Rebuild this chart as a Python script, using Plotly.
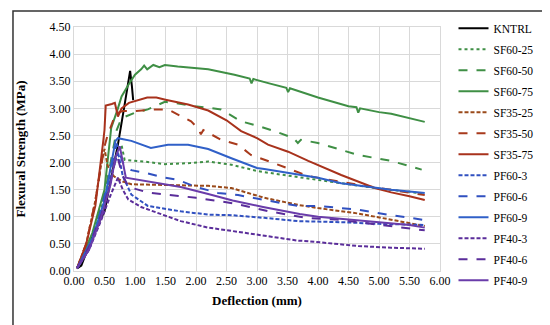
import plotly.graph_objects as go

# ---------------- data ----------------
kntrl_x = [0.05, 0.12, 0.34, 0.50, 0.61, 0.72, 0.83, 0.92, 0.95, 0.97]
kntrl_y = [0.05, 0.10, 0.74, 1.10, 1.72, 2.33, 3.07, 3.69, 3.40, 3.15]

sf60_25_x = [0.05, 0.20, 0.35, 0.50, 0.62, 0.72, 0.78, 0.83, 1.21, 1.49, 1.90, 2.20, 2.58, 3.02, 3.56, 4.00, 4.50, 5.00, 5.50, 5.75]
sf60_25_y = [0.05, 0.35, 0.80, 1.35, 1.85, 2.20, 2.32, 2.05, 2.01, 1.97, 1.99, 2.02, 1.96, 1.84, 1.75, 1.68, 1.60, 1.52, 1.46, 1.42]

sf60_50_x = [0.05, 0.30, 0.50, 0.60, 0.70, 0.78, 1.00, 1.21, 1.49, 1.65, 1.98, 2.41, 2.74, 3.00, 3.29, 3.60, 3.67, 3.72, 4.00, 4.66, 5.20, 5.70]
sf60_50_y = [0.05, 0.60, 1.40, 2.00, 2.60, 2.82, 2.92, 2.98, 3.12, 3.10, 3.04, 2.98, 2.76, 2.68, 2.58, 2.45, 2.36, 2.42, 2.36, 2.14, 2.03, 1.87]

sf60_75_x = [0.05, 0.30, 0.50, 0.61, 0.72, 0.78, 0.90, 1.00, 1.10, 1.15, 1.20, 1.30, 1.40, 1.49, 1.70, 1.87, 2.20, 2.63, 2.88, 2.91, 2.94, 3.20, 3.48, 3.51, 3.54, 4.00, 4.50, 4.63, 4.66, 4.69, 5.00, 5.20, 5.50, 5.75]
sf60_75_y = [0.05, 0.70, 1.50, 2.64, 3.00, 3.22, 3.45, 3.62, 3.72, 3.79, 3.72, 3.80, 3.76, 3.80, 3.77, 3.75, 3.72, 3.62, 3.55, 3.46, 3.54, 3.46, 3.38, 3.30, 3.37, 3.20, 3.04, 3.02, 2.92, 3.00, 2.93, 2.90, 2.82, 2.75]

sf35_25_x = [0.05, 0.20, 0.35, 0.45, 0.50, 0.55, 0.65, 0.80, 0.94, 1.65, 2.20, 2.58, 3.12, 3.67, 4.00, 4.66, 5.20, 5.75]
sf35_25_y = [0.05, 0.50, 1.30, 2.00, 2.25, 1.95, 1.75, 1.65, 1.60, 1.59, 1.57, 1.53, 1.35, 1.22, 1.16, 1.06, 0.95, 0.83]

sf35_50_x = [0.05, 0.20, 0.35, 0.45, 0.50, 0.55, 0.65, 0.72, 0.80, 1.00, 1.33, 1.54, 1.92, 2.04, 2.08, 2.12, 2.41, 2.69, 2.90, 3.30, 3.62, 3.84, 4.66, 5.20, 5.75]
sf35_50_y = [0.05, 0.50, 1.30, 2.00, 2.30, 2.50, 2.80, 2.92, 2.95, 2.95, 2.98, 2.98, 2.76, 2.62, 2.52, 2.60, 2.42, 2.33, 2.14, 1.98, 1.84, 1.75, 1.59, 1.50, 1.40]

sf35_75_x = [0.05, 0.20, 0.35, 0.42, 0.48, 0.50, 0.52, 0.62, 0.67, 0.70, 0.72, 0.78, 0.90, 1.20, 1.35, 1.50, 1.87, 2.20, 2.50, 2.74, 3.00, 3.18, 3.51, 3.84, 4.38, 4.93, 5.20, 5.50, 5.75]
sf35_75_y = [0.05, 0.50, 1.20, 1.80, 2.40, 2.60, 3.05, 3.08, 3.10, 2.95, 2.85, 3.00, 3.10, 3.20, 3.20, 3.16, 3.07, 2.96, 2.78, 2.58, 2.45, 2.33, 2.20, 2.03, 1.77, 1.53, 1.45, 1.38, 1.31]

pf60_3_x = [0.05, 0.25, 0.40, 0.55, 0.65, 0.72, 0.80, 0.94, 1.21, 1.75, 2.20, 2.58, 3.12, 3.67, 4.40, 5.00, 5.75]
pf60_3_y = [0.05, 0.40, 0.90, 1.50, 1.95, 2.20, 1.75, 1.41, 1.20, 1.10, 1.04, 1.03, 0.98, 0.92, 0.90, 0.87, 0.85]

pf60_6_x = [0.05, 0.25, 0.40, 0.55, 0.65, 0.70, 0.80, 0.94, 1.21, 1.49, 1.70, 2.00, 2.36, 2.69, 3.12, 3.67, 4.00, 4.66, 5.20, 5.75]
pf60_6_y = [0.05, 0.45, 0.95, 1.60, 2.10, 2.35, 2.00, 1.86, 1.80, 1.72, 1.68, 1.55, 1.44, 1.40, 1.31, 1.20, 1.20, 1.13, 1.03, 0.94]

pf60_9_x = [0.05, 0.30, 0.50, 0.60, 0.68, 0.72, 0.94, 1.26, 1.54, 1.87, 2.20, 2.58, 3.00, 3.12, 3.67, 4.00, 4.38, 4.70, 5.20, 5.75]
pf60_9_y = [0.05, 0.60, 1.30, 1.90, 2.40, 2.45, 2.40, 2.27, 2.33, 2.33, 2.25, 2.08, 1.90, 1.88, 1.78, 1.72, 1.62, 1.57, 1.50, 1.44]

pf40_3_x = [0.05, 0.25, 0.45, 0.60, 0.72, 0.80, 0.89, 1.10, 1.75, 2.20, 2.58, 3.12, 3.67, 3.84, 4.66, 5.20, 5.75]
pf40_3_y = [0.05, 0.40, 0.95, 1.40, 1.72, 1.50, 1.32, 1.18, 0.92, 0.80, 0.74, 0.65, 0.56, 0.55, 0.46, 0.43, 0.41]

pf40_6_x = [0.05, 0.25, 0.45, 0.60, 0.70, 0.80, 0.90, 1.20, 2.00, 2.60, 3.20, 3.80, 4.30, 5.00, 5.75]
pf40_6_y = [0.05, 0.45, 1.05, 1.65, 2.15, 1.75, 1.55, 1.45, 1.35, 1.25, 1.10, 0.98, 0.95, 0.85, 0.75]

pf40_9_x = [0.05, 0.25, 0.45, 0.60, 0.68, 0.75, 0.85, 1.20, 1.75, 2.20, 2.60, 3.10, 3.70, 4.00, 4.50, 5.00, 5.50, 5.75]
pf40_9_y = [0.05, 0.40, 1.00, 1.60, 2.10, 2.30, 1.72, 1.65, 1.55, 1.42, 1.30, 1.18, 1.05, 1.00, 0.95, 0.90, 0.85, 0.80]

x_ticks = [0, 0.5, 1, 1.5, 2, 2.5, 3, 3.5, 4, 4.5, 5, 5.5, 6]
y_ticks = [0, 0.5, 1, 1.5, 2, 2.5, 3, 3.5, 4, 4.5]

series = [
    ("KNTRL", kntrl_x, kntrl_y, "#000000", "solid"),
    ("SF60-25", sf60_25_x, sf60_25_y, "#3f8f45", "dot"),
    ("SF60-50", sf60_50_x, sf60_50_y, "#3f8f45", "dash"),
    ("SF60-75", sf60_75_x, sf60_75_y, "#3f8f45", "solid"),
    ("SF35-25", sf35_25_x, sf35_25_y, "#9a4a1a", "4px,2px"),
    ("SF35-50", sf35_50_x, sf35_50_y, "#a83a1c", "dash"),
    ("SF35-75", sf35_75_x, sf35_75_y, "#a8321c", "solid"),
    ("PF60-3", pf60_3_x, pf60_3_y, "#3050c0", "4px,2px"),
    ("PF60-6", pf60_6_x, pf60_6_y, "#3050c0", "dash"),
    ("PF60-9", pf60_9_x, pf60_9_y, "#3060c8", "solid"),
    ("PF40-3", pf40_3_x, pf40_3_y, "#5a2d9a", "4px,2px"),
    ("PF40-6", pf40_6_x, pf40_6_y, "#5a2d9a", "dash"),
    ("PF40-9", pf40_9_x, pf40_9_y, "#6a3caa", "solid"),
]

fig = go.Figure()
for i, (name, xs, ys, col, dash) in enumerate(series):
    fig.add_trace(go.Scatter(
        x=xs, y=ys, mode="lines", name=name,
        line=dict(color=col, width=2, dash=dash),
        legendgroup="g%d" % i,
    ))

font_family = "Liberation Serif"

fig.update_layout(
    width=550, height=325,
    margin=dict(l=66, r=118, t=19, b=62, autoexpand=False),
    paper_bgcolor="white", plot_bgcolor="white",
    font=dict(family=font_family, size=12, color="#000000"),
    showlegend=True,
    legend=dict(
        xref="container", yref="container",
        x=0.81, y=0.982, xanchor="left", yanchor="top",
        font=dict(family=font_family, size=11.5, color="#000000"),
        tracegroupgap=2, bgcolor="rgba(0,0,0,0)",
        itemwidth=30, maxheight=320,
    ),
    xaxis=dict(
        range=[0, 6], tickvals=x_ticks, tickformat=".2f",
        showgrid=True, gridcolor="#d9d9d9", gridwidth=1,
        showline=True, linecolor="#d9d9d9", mirror=True,
        zeroline=False, ticks="", ticklabelstandoff=-1, automargin=False,
        tickfont=dict(family=font_family, size=12),
        title=dict(text="<b>Deflection (mm)</b>", font=dict(family=font_family, size=13), standoff=8),
    ),
    yaxis=dict(
        range=[0, 4.5], tickvals=y_ticks, tickformat=".2f",
        showgrid=True, gridcolor="#d9d9d9", gridwidth=1,
        showline=True, linecolor="#d9d9d9", mirror=True,
        zeroline=False, ticks="", automargin=False,
        tickfont=dict(family=font_family, size=12),
        title=dict(text="<b>Flexural Strength (MPa)</b>", font=dict(family=font_family, size=13), standoff=21),
    ),
    shapes=[dict(
        type="rect", xref="paper", yref="paper",
        x0=-0.1667, x1=1.317, y0=-0.2336, y1=1.0656,
        line=dict(color="#333333", width=1.5), fillcolor="rgba(0,0,0,0)",
    )],
)

fig.write_html("out.html")
